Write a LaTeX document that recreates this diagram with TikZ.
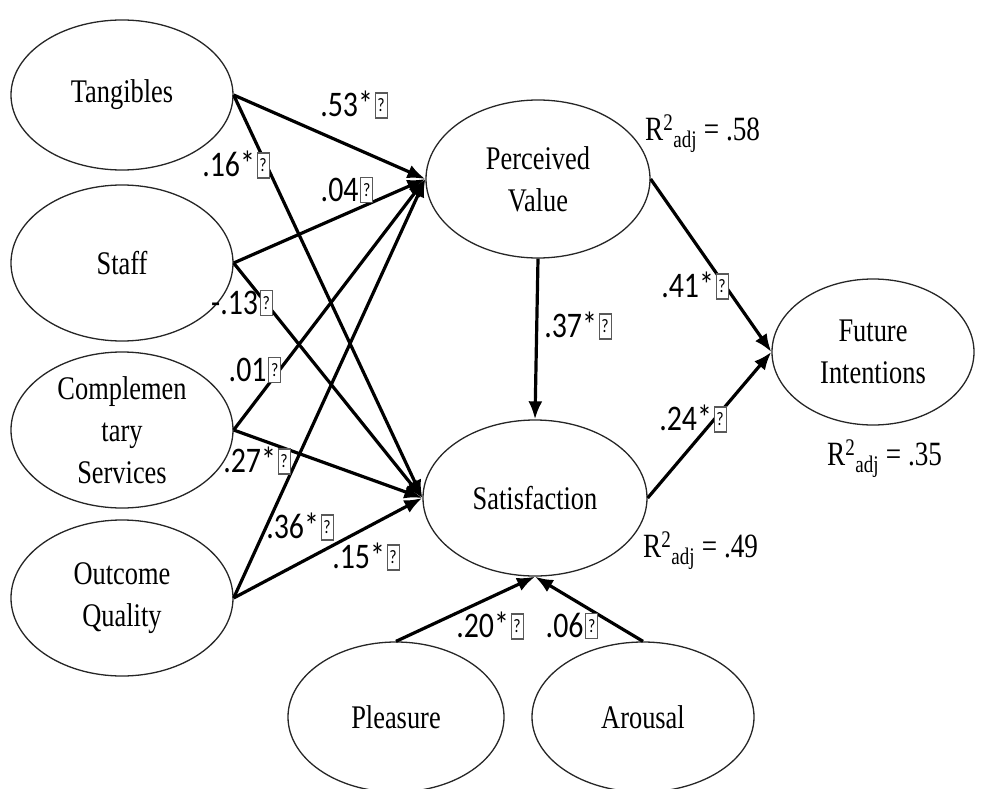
\documentclass[tikz,border=0pt]{standalone}
\usepackage{fontspec}
\setmainfont{Liberation Serif}[FakeStretch=0.8]
\newfontfamily\coeffont{Carlito}[FakeStretch=0.83]
\usetikzlibrary{shapes.geometric,arrows.meta}

% small framed question mark that follows each coefficient
\newcommand\qbox{\kern1.5pt\tikz[baseline=0pt,x=1pt,y=1pt]{%
  \draw[black!65, line width=1.2pt, fill=white] (0,-1) rectangle (12,24);
  \node[inner sep=0pt, font=\coeffont\fontsize{19}{19}\selectfont] at (6,11.5) {?};}}

\tikzset{
  construct/.style={ellipse, draw=black!85, line width=1.3pt, inner sep=0pt},
  ctext/.style={font=\fontsize{33}{42}\selectfont, align=center, inner sep=0pt},
  pathline/.style={line width=3.2pt, -{Latex[length=18pt,width=14pt]}},
  coef/.style={font=\coeffont\fontsize{36}{40}\selectfont, inner sep=0pt},
  rsq/.style={font=\fontsize{34}{40}\selectfont, inner sep=0pt, anchor=base west}
}

\begin{document}
\begin{tikzpicture}[x=1pt,y=-1pt]
\useasboundingbox (0,0) rectangle (985,789);

% exogenous constructs
\node[construct, minimum width=222pt, minimum height=150pt, label={[ctext]center:Tangibles}] (tang) at (122,95) {};
\node[construct, minimum width=222pt, minimum height=156pt, label={[ctext]center:Staff}] (staff) at (122,263) {};
\node[construct, minimum width=222pt, minimum height=156pt, label={[ctext]center:Complemen\\tary\\Services}] (comp) at (122,430) {};
\node[construct, minimum width=222pt, minimum height=156pt, label={[ctext]center:Outcome\\Quality}] (outc) at (122,598) {};

% mediators and outcome
\node[construct, minimum width=224pt, minimum height=158pt, label={[ctext]center:Perceived\\Value}] (pv) at (538,179) {};
\node[construct, minimum width=224pt, minimum height=156pt, label={[ctext]center:Satisfaction}] (sat) at (535,498) {};
\node[construct, minimum width=202pt, minimum height=146pt, label={[ctext]center:Future\\Intentions}] (fi) at (873,352) {};

% emotions
\node[construct, minimum width=216pt, minimum height=150pt, label={[ctext]center:Pleasure}] (pl) at (396,717) {};
\node[construct, minimum width=222pt, minimum height=150pt, label={[ctext]center:Arousal}] (ar) at (643,717) {};

% structural paths
\draw[pathline] (tang.east) -- (pv.west);
\draw[pathline] (tang.east) -- (sat.west);
\draw[pathline] (staff.east) -- (pv.west);
\draw[pathline] (staff.east) -- (sat.west);
\draw[pathline] (comp.east) -- (pv.west);
\draw[pathline] (comp.east) -- (sat.west);
\draw[pathline] (outc.east) -- (pv.west);
\draw[pathline] (outc.east) -- (sat.west);
\draw[pathline] (pv.south) -- (sat.north);
\draw[pathline] (pv.east) -- (fi.west);
\draw[pathline] (sat.east) -- (fi.west);
\draw[pathline] (pl.north) -- (sat.south);
\draw[pathline] (ar.north) -- (sat.south);

% path coefficients
\node[coef] (c1) at (354,105) {.53*\qbox};
\node[coef] (c2) at (236,165) {.16*\qbox};
\node[coef] (c3) at (347,190) {.04\qbox};
\node[coef] (c4) at (242,303) {-.13\qbox};
\node[coef] (c5) at (255,370) {.01\qbox};
\node[coef] (c6) at (257,461) {.27*\qbox};
\node[coef] (c7) at (300,527) {.36*\qbox};
\node[coef] (c8) at (366,557) {.15*\qbox};
\node[coef] (c9) at (578,326) {.37*\qbox};
\node[coef] (c10) at (695,286) {.41*\qbox};
\node[coef] (c11) at (693,419) {.24*\qbox};
\node[coef] (c12) at (490,626) {.20*\qbox};
\node[coef] (c13) at (572,626) {.06\qbox};

% explained variance
\node[rsq] (r1) at (645,140) {R\textsuperscript{2}\textsubscript{adj} = .58};
\node[rsq] (r2) at (643,557) {R\textsuperscript{2}\textsubscript{adj} = .49};
\node[rsq] (r3) at (827,465) {R\textsuperscript{2}\textsubscript{adj} = .35};
\end{tikzpicture}
\end{document}
